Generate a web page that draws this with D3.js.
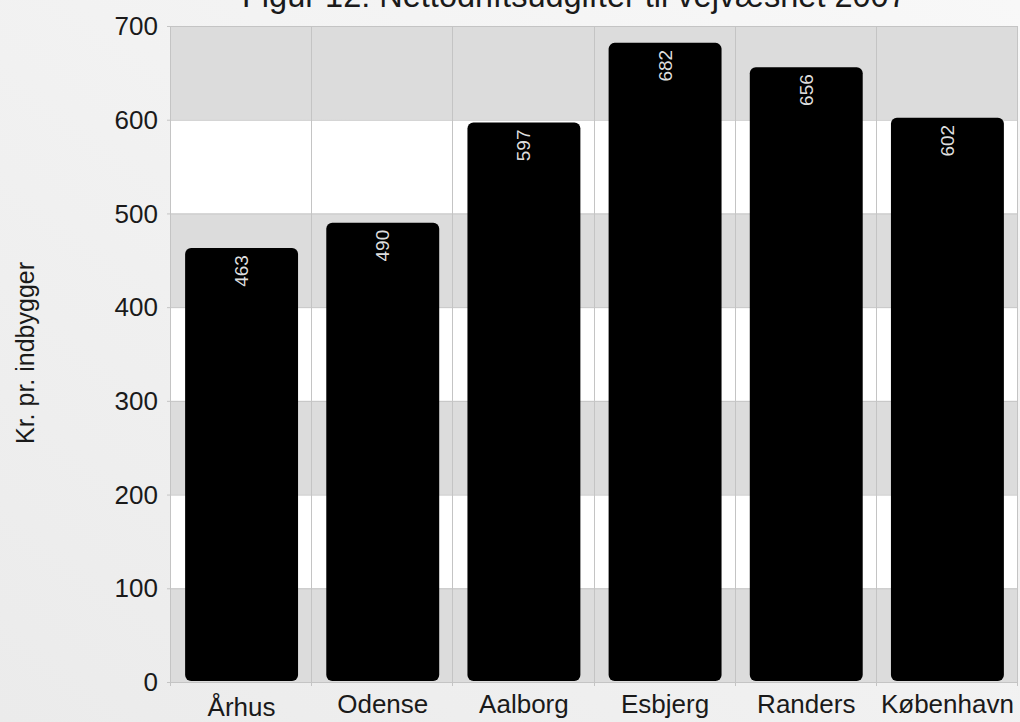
<!DOCTYPE html>
<html>
<head>
<meta charset="utf-8">
<script src="https://cdn.jsdelivr.net/npm/d3@7/dist/d3.min.js"></script>
<style>
  html, body { margin: 0; padding: 0; background: #f2f2f2; }
  svg { display: block; font-family: "Liberation Sans", Arial, sans-serif; }
</style>
</head>
<body>
<svg id="chart" width="1020" height="722"></svg>
<script>
const titleText = "Figur 12: Nettodriftsudgifter til vejvæsnet 2007";
const yAxisTitle = "Kr. pr. indbygger";
const categories = ["Århus", "Odense", "Aalborg", "Esbjerg", "Randers", "København"];
const values = [463, 490, 597, 682, 656, 602];
const yTicks = [0, 100, 200, 300, 400, 500, 600, 700];

const W = 1020, H = 722;
const margin = { left: 171, right: 2, top: 26, bottom: 40 };
const svg = d3.select("#chart");

// background gradient
const defs = svg.append("defs");
const grad = defs.append("linearGradient").attr("id", "bg")
  .attr("x1", "100%").attr("y1", "0%").attr("x2", "0%").attr("y2", "100%");
grad.append("stop").attr("offset", "0%").attr("stop-color", "#f8f8f8");
grad.append("stop").attr("offset", "100%").attr("stop-color", "#ebebeb");
svg.append("rect").attr("width", W).attr("height", H).attr("fill", "url(#bg)");

const x = d3.scaleBand().domain(categories)
  .range([margin.left, W - margin.right]).paddingInner(0).paddingOuter(0);
const y = d3.scaleLinear().domain([0, 700]).range([H - margin.bottom, margin.top]);

// alternating bands
const bands = d3.pairs(yTicks);
svg.append("g").selectAll("rect").data(bands).join("rect")
  .attr("x", margin.left)
  .attr("y", d => y(d[1]))
  .attr("width", W - margin.right - margin.left)
  .attr("height", d => y(d[0]) - y(d[1]))
  .attr("fill", (d, i) => i % 2 === 0 ? "#dcdcdc" : "#ffffff");

// horizontal grid lines
svg.append("g").selectAll("line").data(yTicks).join("line")
  .attr("x1", margin.left - 4).attr("x2", W - margin.right)
  .attr("y1", d => y(d) + 0.5).attr("y2", d => y(d) + 0.5)
  .attr("stroke", "#c4c4c4").attr("stroke-width", 1);

// vertical grid lines at band boundaries
const bounds = categories.map(c => x(c)).concat([W - margin.right]);
svg.append("g").selectAll("line").data(bounds).join("line")
  .attr("x1", d => Math.round(d) - 0.5).attr("x2", d => Math.round(d) - 0.5)
  .attr("y1", y(700)).attr("y2", y(0) + 4)
  .attr("stroke", "#c4c4c4").attr("stroke-width", 1);

// y tick labels
svg.append("g").selectAll("text").data(yTicks).join("text")
  .attr("x", 158).attr("y", d => y(d))
  .attr("dy", "0.35em")
  .attr("text-anchor", "end")
  .attr("font-size", 26)
  .attr("fill", "#1a1a1a")
  .text(d => d);

// bars
const inset = x.bandwidth() * 0.1;
svg.append("g").selectAll("rect").data(values).join("rect")
  .attr("x", (d, i) => x(categories[i]) + inset)
  .attr("y", d => y(d))
  .attr("width", x.bandwidth() - 2 * inset)
  .attr("height", d => y(0) - 1 - y(d))
  .attr("rx", 6).attr("ry", 6)
  .attr("fill", "#000000");

// bar value labels (rotated)
svg.append("g").selectAll("text").data(values).join("text")
  .attr("transform", (d, i) => `translate(${x(categories[i]) + x.bandwidth() / 2},${y(d) + 7}) rotate(-90)`)
  .attr("text-anchor", "end")
  .attr("dominant-baseline", "central")
  .attr("font-size", 19)
  .attr("fill", "#dedede")
  .text(d => d);

// x labels
svg.append("g").selectAll("text").data(categories).join("text")
  .attr("x", d => x(d) + x.bandwidth() / 2)
  .attr("y", d => d.includes("Å") ? 716 : 713)
  .attr("text-anchor", "middle")
  .attr("font-size", 26)
  .attr("fill", "#1a1a1a")
  .text(d => d);

// y axis title
svg.append("text")
  .attr("transform", `translate(25,353) rotate(-90)`)
  .attr("text-anchor", "middle")
  .attr("dominant-baseline", "central")
  .attr("font-size", 25)
  .attr("fill", "#1a1a1a")
  .text(yAxisTitle);

// title
svg.append("text")
  .attr("x", 242).attr("y", 7)
  .attr("font-size", 32.5)
  .attr("fill", "#1a1a1a")
  .text(titleText);
</script>
</body>
</html>
